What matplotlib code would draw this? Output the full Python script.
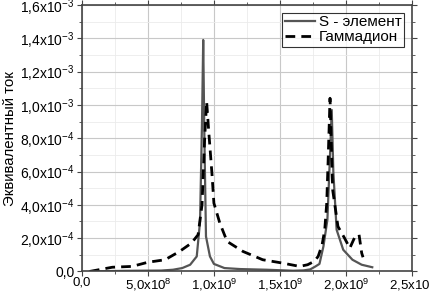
import numpy as np
import matplotlib.pyplot as plt
from matplotlib.ticker import MultipleLocator

plt.rcParams['font.family'] = ['Liberation Sans', 'DejaVu Sans']
plt.rcParams['mathtext.fontset'] = 'custom'
plt.rcParams['mathtext.rm'] = 'Liberation Sans'

# S - элемент (frequency, current)
s_freq = [0.06e9, 0.2e9, 0.4e9, 0.6e9, 0.69e9, 0.76e9, 0.82e9, 0.87e9, 0.895e9,
          0.91e9, 0.919e9, 0.928e9, 0.94e9, 0.97e9, 1.0e9, 1.08e9, 1.2e9, 1.4e9,
          1.6e9, 1.68e9, 1.73e9, 1.77e9, 1.8e9, 1.83e9, 1.86e9, 1.88e9, 1.893e9,
          1.905e9, 1.93e9, 1.98e9, 2.05e9, 2.12e9, 2.2e9]
s_cur = [0.0, 0.002e-3, 0.004e-3, 0.005e-3, 0.01e-3, 0.02e-3, 0.04e-3, 0.09e-3, 0.3e-3,
         0.9e-3, 1.39e-3, 0.8e-3, 0.21e-3, 0.09e-3, 0.045e-3, 0.02e-3, 0.014e-3, 0.01e-3,
         0.004e-3, 0.006e-3, 0.012e-3, 0.03e-3, 0.045e-3, 0.15e-3, 0.31e-3, 0.7e-3, 0.97e-3,
         0.6e-3, 0.25e-3, 0.13e-3, 0.07e-3, 0.04e-3, 0.025e-3]

# Гаммадион
g_freq = [0.06e9, 0.23e9, 0.38e9, 0.5e9, 0.63e9, 0.74e9, 0.83e9, 0.88e9, 0.91e9,
          0.93e9, 0.945e9, 0.96e9, 0.985e9, 1.0e9, 1.045e9, 1.1e9, 1.22e9, 1.37e9,
          1.52e9, 1.65e9, 1.71e9, 1.76e9, 1.79e9, 1.82e9, 1.84e9, 1.855e9, 1.865e9,
          1.88e9, 1.9e9, 1.94e9, 1.99e9, 2.03e9, 2.07e9, 2.1e9, 2.12e9, 2.13e9]
g_cur = [0.0, 0.025e-3, 0.03e-3, 0.055e-3, 0.07e-3, 0.12e-3, 0.17e-3, 0.22e-3, 0.4e-3,
         0.8e-3, 1.02e-3, 0.85e-3, 0.59e-3, 0.41e-3, 0.29e-3, 0.18e-3, 0.12e-3, 0.07e-3,
         0.05e-3, 0.03e-3, 0.04e-3, 0.06e-3, 0.09e-3, 0.16e-3, 0.25e-3, 0.41e-3, 0.65e-3,
         1.04e-3, 0.49e-3, 0.27e-3, 0.2e-3, 0.14e-3, 0.21e-3, 0.22e-3, 0.11e-3, 0.085e-3]

x_ticks = [0, 0.5e9, 1.0e9, 1.5e9, 2.0e9, 2.5e9]
x_labels = ['0,0', r'5,0x10$^{8}$', r'1,0x10$^{9}$', r'1,5x10$^{9}$', r'2,0x10$^{9}$', r'2,5x10$^{9}$']
y_ticks = [0, 0.2e-3, 0.4e-3, 0.6e-3, 0.8e-3, 1.0e-3, 1.2e-3, 1.4e-3, 1.6e-3]
y_labels = ['0,0', r'2,0x10$^{-4}$', r'4,0x10$^{-4}$', r'6,0x10$^{-4}$', r'8,0x10$^{-4}$',
            r'1,0x10$^{-3}$', r'1,2x10$^{-3}$', r'1,4x10$^{-3}$', r'1,6x10$^{-3}$']

fig = plt.figure(figsize=(4.29, 2.95), dpi=100)
ax = fig.add_axes([0.191, 0.08, 0.769, 0.903])

ax.plot(s_freq, s_cur, color='#555555', lw=1.6, label='S - элемент')
ax.plot(g_freq, g_cur, color='black', lw=2.0, dashes=(3.5, 2.2), label='Гаммадион')

ax.set_xlim(0, 2.5e9)
ax.set_ylim(0, 1.6e-3)
ax.set_xticks(x_ticks)
ax.set_xticklabels(x_labels)
ax.set_yticks(y_ticks)
ax.set_yticklabels(y_labels)
ax.xaxis.set_minor_locator(MultipleLocator(2.5e8))
ax.yaxis.set_minor_locator(MultipleLocator(1e-4))
ax.grid(True, which='major', color='#c8c8c8', lw=0.8)
ax.grid(True, which='minor', color='#ebebeb', lw=0.6)
ax.set_axisbelow(True)

ax.tick_params(which='both', direction='out', labelsize=10, color='#444444',
               top=True, right=True, pad=2)
ax.tick_params(axis='x', labelsize=9.5, pad=0.5)
ax.tick_params(which='major', length=3.5)
ax.tick_params(which='minor', length=2)
for sp in ax.spines.values():
    sp.set_color('#444444')
    sp.set_linewidth(1.2)

ax.set_ylabel('Эквивалентный ток', fontsize=10.8, labelpad=2)

leg = ax.legend(loc='upper right', fontsize=11, frameon=True, fancybox=False,
                edgecolor='black', handlelength=2.0, borderpad=0.15, labelspacing=0.1,
                handletextpad=0.25, borderaxespad=0.5)
leg.get_frame().set_linewidth(0.8)

fig.savefig('out.png', dpi=100)
